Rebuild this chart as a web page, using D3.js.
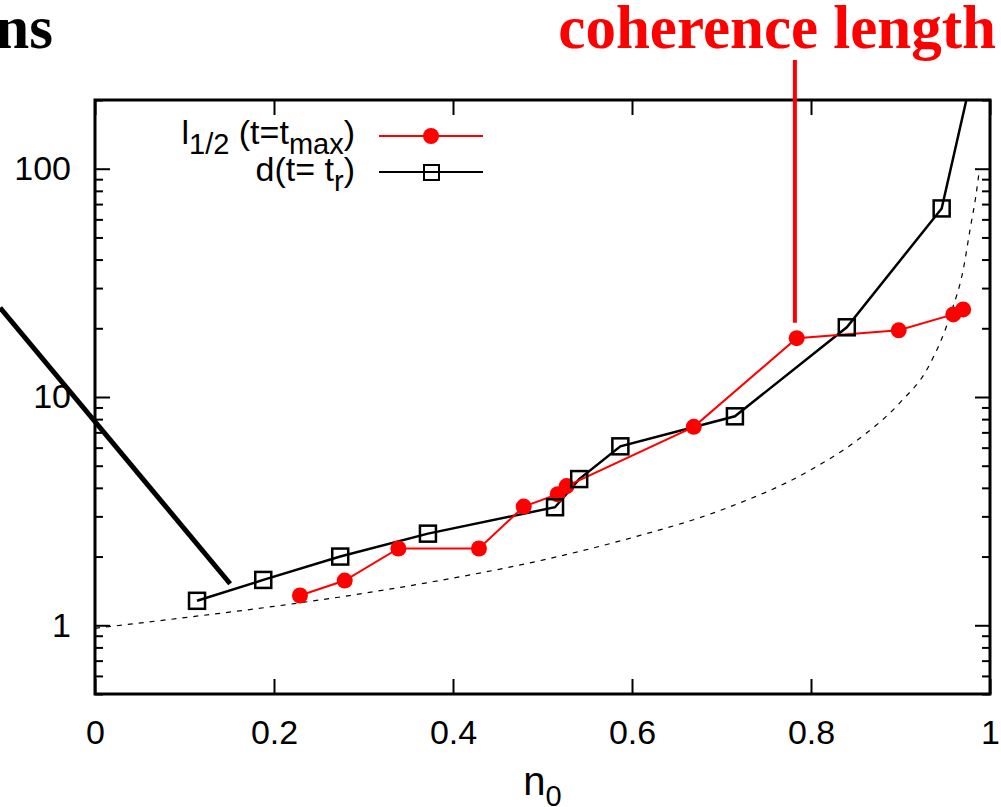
<!DOCTYPE html>
<html>
<head>
<meta charset="utf-8">
<script src="https://cdn.jsdelivr.net/npm/d3@7"></script>
<style>
  body { margin: 0; background: #fff; }
  svg { display: block; font-family: "Liberation Sans", Arial, sans-serif; }
</style>
</head>
<body>
<div id="chart"></div>
<script>
// l_1/2 (t = t_max) : red filled circles
const halfN = [0.229, 0.279, 0.339, 0.429, 0.479, 0.517, 0.527, 0.669, 0.784, 0.898, 0.959, 0.970];
const halfL = [1.35, 1.57, 2.17, 2.17, 3.31, 3.75, 4.07, 7.4, 18.1, 19.6, 23.0, 24.2];

// d (t = t_r) : black open squares (last point leaves the frame)
const dN = [0.114, 0.188, 0.274, 0.372, 0.514, 0.541, 0.587, 0.715, 0.840, 0.946, 0.98];
const dL = [1.28, 1.58, 2.0, 2.52, 3.29, 4.37, 6.08, 8.23, 20.2, 67.0, 258];

// thin dashed reference curve
const refN = [0, 0.1, 0.2, 0.3, 0.4, 0.5, 0.6, 0.7, 0.8, 0.85, 0.9, 0.93, 0.957, 0.97, 0.978, 0.984, 0.988];
const refL = [0.97, 1.08, 1.21, 1.38, 1.61, 1.93, 2.42, 3.2, 4.8, 6.4, 9.5, 13.3, 23.7, 36, 55, 75, 98];

// thick annotation line on the left (runs outside the frame)
const slashN = [-0.106, 0.151];
const slashL = [24.6, 1.52];

// coherence-length marker
const markerN = 0.782;
const markerL = 19.5;

const xTicks = [0, 0.2, 0.4, 0.6, 0.8, 1];
const yTicks = [1, 10, 100];
const yMinor = [0.5, 0.6, 0.7, 0.8, 0.9, 2, 3, 4, 5, 6, 7, 8, 9, 20, 30, 40, 50, 60, 70, 80, 90, 200];

const width = 1001;
const height = 807;
const margin = { top: 100, right: 11, bottom: 113, left: 95 };

const svg = d3.select("#chart")
  .append("svg")
  .attr("width", width)
  .attr("height", height);

// Scales
const x = d3.scaleLinear()
  .domain([0, 1])
  .range([margin.left, width - margin.right]);

const y = d3.scaleLog()
  .domain([0.5, 200])
  .range([height - margin.bottom, margin.top]);

svg.append("clipPath")
  .attr("id", "plot-clip")
  .append("rect")
  .attr("x", margin.left)
  .attr("y", margin.top)
  .attr("width", x(1) - x(0))
  .attr("height", y(0.5) - y(200));

// Axes (ticks point inward, mirrored on top / right)
function styleAxis(g) {
  g.select(".domain").remove();
  g.selectAll(".tick line").attr("stroke", "#000").attr("stroke-width", 2);
  g.selectAll(".tick text").attr("fill", "#000");
}

svg.append("g")
  .attr("transform", `translate(0,${y(0.5)})`)
  .call(d3.axisBottom(x).tickValues(xTicks).tickSize(-15).tickPadding(26)
    .tickFormat(d => d === 0 || d === 1 ? d3.format("d")(d) : d3.format(".1f")(d)))
  .attr("font-size", "34px")
  .call(styleAxis);

svg.append("g")
  .attr("transform", `translate(0,${y(200)})`)
  .call(d3.axisTop(x).tickValues(xTicks).tickSize(-15).tickFormat(""))
  .call(styleAxis);

svg.append("g")
  .attr("transform", `translate(${x(0)},0)`)
  .call(d3.axisLeft(y).tickValues(yTicks).tickSize(-15).tickPadding(24).tickFormat(d3.format("d")))
  .attr("font-size", "34px")
  .call(styleAxis);

svg.append("g")
  .attr("transform", `translate(${x(0)},0)`)
  .call(d3.axisLeft(y).tickValues(yMinor).tickSize(-8).tickFormat(""))
  .call(styleAxis);

svg.append("g")
  .attr("transform", `translate(${x(1)},0)`)
  .call(d3.axisRight(y).tickValues(yTicks).tickSize(-15).tickFormat(""))
  .call(styleAxis);

svg.append("g")
  .attr("transform", `translate(${x(1)},0)`)
  .call(d3.axisRight(y).tickValues(yMinor).tickSize(-8).tickFormat(""))
  .call(styleAxis);

// Frame
svg.append("rect")
  .attr("x", x(0))
  .attr("y", y(200))
  .attr("width", x(1) - x(0))
  .attr("height", y(0.5) - y(200))
  .attr("fill", "none")
  .attr("stroke", "#000")
  .attr("stroke-width", 3);

// x label n_0
const xLabel = svg.append("text")
  .attr("x", (x(0) + x(1)) / 2)
  .attr("y", 795)
  .attr("text-anchor", "middle")
  .attr("font-size", "40px");
xLabel.append("tspan").text("n");
xLabel.append("tspan").attr("dy", 11).attr("font-size", "29px").text("0");

const plot = svg.append("g").attr("clip-path", "url(#plot-clip)");

// Dashed reference curve
const refData = refN.map((n, i) => ({ n: n, v: refL[i] }));
plot.append("path")
  .datum(refData)
  .attr("fill", "none")
  .attr("stroke", "#000")
  .attr("stroke-width", 1.2)
  .attr("stroke-dasharray", "5,6")
  .attr("d", d3.line().curve(d3.curveMonotoneX).x(d => x(d.n)).y(d => y(d.v)));

const line = d3.line().x(d => x(d.n)).y(d => y(d.v));

// d(t = t_r) series
const dData = dN.map((n, i) => ({ n: n, v: dL[i] }));
plot.append("path")
  .datum(dData)
  .attr("fill", "none")
  .attr("stroke", "#000")
  .attr("stroke-width", 2.5)
  .attr("d", line);

// l_1/2 series
const halfData = halfN.map((n, i) => ({ n: n, v: halfL[i] }));
plot.append("path")
  .datum(halfData)
  .attr("fill", "none")
  .attr("stroke", "#ff0000")
  .attr("stroke-width", 2)
  .attr("d", line);

plot.selectAll(".half-point")
  .data(halfData)
  .enter()
  .append("circle")
  .attr("class", "half-point")
  .attr("cx", d => x(d.n))
  .attr("cy", d => y(d.v))
  .attr("r", 8)
  .attr("fill", "#ff0000");

plot.selectAll(".d-point")
  .data(dData)
  .enter()
  .append("rect")
  .attr("class", "d-point")
  .attr("x", d => x(d.n) - 8)
  .attr("y", d => y(d.v) - 8)
  .attr("width", 16)
  .attr("height", 16)
  .attr("fill", "none")
  .attr("stroke", "#000")
  .attr("stroke-width", 2.5);

// Legend
const legend = svg.append("g");
const row1 = legend.append("text")
  .attr("x", 355)
  .attr("y", 144)
  .attr("text-anchor", "end")
  .attr("font-size", "34px");
row1.append("tspan").text("l");
row1.append("tspan").attr("dy", 10).attr("font-size", "29px").text("1/2");
row1.append("tspan").attr("dy", -10).text(" (t=t");
row1.append("tspan").attr("dy", 10).attr("font-size", "29px").text("max");
row1.append("tspan").attr("dy", -10).text(")");

const row2 = legend.append("text")
  .attr("x", 355)
  .attr("y", 181)
  .attr("text-anchor", "end")
  .attr("font-size", "34px");
row2.append("tspan").text("d(t= t");
row2.append("tspan").attr("dy", 10).attr("font-size", "29px").text("r");
row2.append("tspan").attr("dy", -10).text(")");

legend.append("line")
  .attr("x1", 379).attr("x2", 483)
  .attr("y1", 136).attr("y2", 136)
  .attr("stroke", "#ff0000").attr("stroke-width", 2);
legend.append("circle")
  .attr("cx", 431).attr("cy", 136).attr("r", 8)
  .attr("fill", "#ff0000");

legend.append("line")
  .attr("x1", 379).attr("x2", 483)
  .attr("y1", 172).attr("y2", 172)
  .attr("stroke", "#000").attr("stroke-width", 2);
legend.append("rect")
  .attr("x", 424).attr("y", 165).attr("width", 15).attr("height", 15)
  .attr("fill", "none").attr("stroke", "#000").attr("stroke-width", 2);

// Thick annotation slash on the left
const slashData = slashN.map((n, i) => ({ n: n, v: slashL[i] }));
svg.append("path")
  .datum(slashData)
  .attr("fill", "none")
  .attr("stroke", "#000")
  .attr("stroke-width", 5)
  .attr("d", line);

// Coherence length marker
svg.append("line")
  .attr("x1", x(markerN)).attr("x2", x(markerN))
  .attr("y1", 60).attr("y2", y(markerL) - 8)
  .attr("stroke", "#ff0000")
  .attr("stroke-width", 4);

svg.append("text")
  .attr("x", 996)
  .attr("y", 48)
  .attr("text-anchor", "end")
  .attr("font-family", "'Liberation Serif', 'Times New Roman', serif")
  .attr("font-weight", "bold")
  .attr("font-size", "61px")
  .attr("fill", "#ff0000")
  .text("coherence length");

svg.append("text")
  .attr("x", 53)
  .attr("y", 48)
  .attr("text-anchor", "end")
  .attr("font-family", "'Liberation Serif', 'Times New Roman', serif")
  .attr("font-weight", "bold")
  .attr("font-size", "61px")
  .attr("fill", "#000")
  .text("ns");
</script>
</body>
</html>
